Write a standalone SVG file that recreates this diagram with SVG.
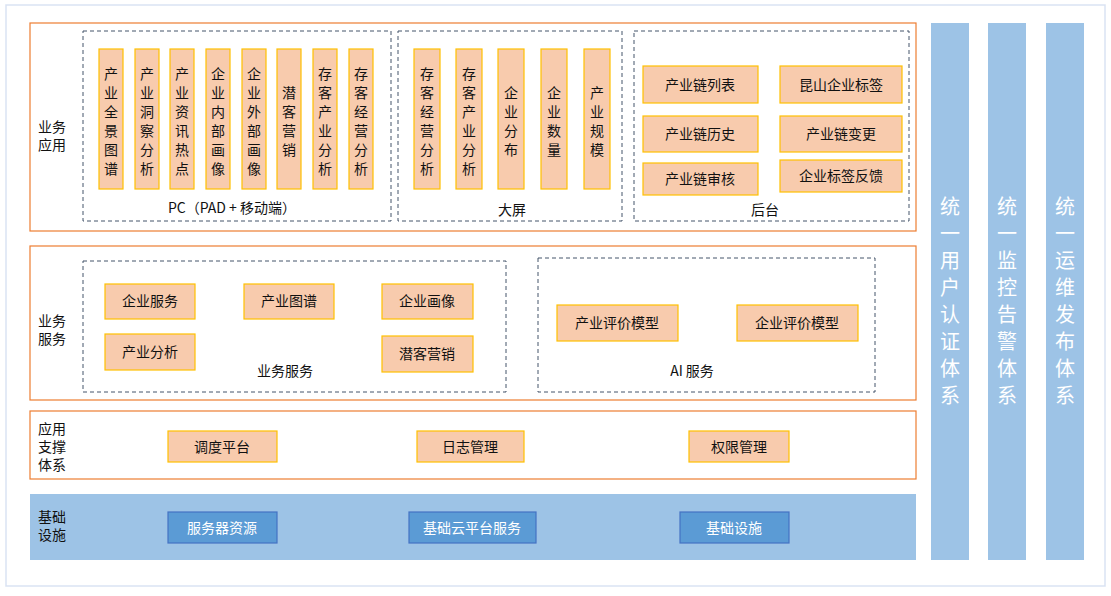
<svg xmlns="http://www.w3.org/2000/svg" width="1111" height="596" viewBox="0 0 1111 596">
<style>
text{font-family:"Noto Sans CJK SC","Noto Sans",sans-serif;fill:#111;font-size:14px}
.lay{fill:#fff;stroke:#ed7d31;stroke-width:1.2}
.dash{fill:none;stroke:#44546a;stroke-dasharray:4 3}
.b{fill:#f8cbad;stroke:#ffc000;stroke-width:1.2}
.bb{fill:#5b9bd5;stroke:#4472c4;stroke-width:1.2}
.c{text-anchor:middle}
.w{fill:#fff}
.col{fill:#9dc3e6}
.ct{fill:#fff;font-size:20px;text-anchor:middle}
</style>
<rect x="6" y="5" width="1099" height="581" fill="#fff" stroke="#dae3f3" stroke-width="1.5"/>
<g id="layer-app">
<rect class="lay" x="30" y="23" width="886" height="208"/>
<text x="38" y="132">业务</text><text x="38" y="150">应用</text>
<rect class="dash" x="83" y="31" width="308" height="190"/>
<text class="c" x="232" y="213">PC（PAD + 移动端）</text>
<rect class="dash" x="398" y="31" width="224" height="190"/>
<text class="c" x="512" y="215">大屏</text>
<rect class="dash" x="634" y="31" width="275" height="190"/>
<text class="c" x="765" y="215">后台</text>
</g>
<g id="pc-items">
<rect class="b" x="99" y="49" width="24" height="140"/><text class="c" x="111"><tspan x="111" y="79">产</tspan><tspan x="111" y="98">业</tspan><tspan x="111" y="117">全</tspan><tspan x="111" y="136">景</tspan><tspan x="111" y="155">图</tspan><tspan x="111" y="174">谱</tspan></text>
<rect class="b" x="135" y="49" width="24" height="140"/><text class="c"><tspan x="147" y="79">产</tspan><tspan x="147" y="98">业</tspan><tspan x="147" y="117">洞</tspan><tspan x="147" y="136">察</tspan><tspan x="147" y="155">分</tspan><tspan x="147" y="174">析</tspan></text>
<rect class="b" x="170" y="49" width="24" height="140"/><text class="c"><tspan x="182" y="79">产</tspan><tspan x="182" y="98">业</tspan><tspan x="182" y="117">资</tspan><tspan x="182" y="136">讯</tspan><tspan x="182" y="155">热</tspan><tspan x="182" y="174">点</tspan></text>
<rect class="b" x="206" y="49" width="24" height="140"/><text class="c"><tspan x="218" y="79">企</tspan><tspan x="218" y="98">业</tspan><tspan x="218" y="117">内</tspan><tspan x="218" y="136">部</tspan><tspan x="218" y="155">画</tspan><tspan x="218" y="174">像</tspan></text>
<rect class="b" x="242" y="49" width="24" height="140"/><text class="c"><tspan x="254" y="79">企</tspan><tspan x="254" y="98">业</tspan><tspan x="254" y="117">外</tspan><tspan x="254" y="136">部</tspan><tspan x="254" y="155">画</tspan><tspan x="254" y="174">像</tspan></text>
<rect class="b" x="277" y="49" width="24" height="140"/><text class="c"><tspan x="289" y="98">潜</tspan><tspan x="289" y="117">客</tspan><tspan x="289" y="136">营</tspan><tspan x="289" y="155">销</tspan></text>
<rect class="b" x="313" y="49" width="24" height="140"/><text class="c"><tspan x="325" y="79">存</tspan><tspan x="325" y="98">客</tspan><tspan x="325" y="117">产</tspan><tspan x="325" y="136">业</tspan><tspan x="325" y="155">分</tspan><tspan x="325" y="174">析</tspan></text>
<rect class="b" x="349" y="49" width="24" height="140"/><text class="c"><tspan x="361" y="79">存</tspan><tspan x="361" y="98">客</tspan><tspan x="361" y="117">经</tspan><tspan x="361" y="136">营</tspan><tspan x="361" y="155">分</tspan><tspan x="361" y="174">析</tspan></text>
</g>
<g id="screen-items">
<rect class="b" x="414" y="49" width="26" height="140"/><text class="c"><tspan x="427" y="79">存</tspan><tspan x="427" y="98">客</tspan><tspan x="427" y="117">经</tspan><tspan x="427" y="136">营</tspan><tspan x="427" y="155">分</tspan><tspan x="427" y="174">析</tspan></text>
<rect class="b" x="456" y="49" width="26" height="140"/><text class="c"><tspan x="469" y="79">存</tspan><tspan x="469" y="98">客</tspan><tspan x="469" y="117">产</tspan><tspan x="469" y="136">业</tspan><tspan x="469" y="155">分</tspan><tspan x="469" y="174">析</tspan></text>
<rect class="b" x="498" y="49" width="26" height="140"/><text class="c"><tspan x="511" y="98">企</tspan><tspan x="511" y="117">业</tspan><tspan x="511" y="136">分</tspan><tspan x="511" y="155">布</tspan></text>
<rect class="b" x="541" y="49" width="26" height="140"/><text class="c"><tspan x="554" y="98">企</tspan><tspan x="554" y="117">业</tspan><tspan x="554" y="136">数</tspan><tspan x="554" y="155">量</tspan></text>
<rect class="b" x="584" y="49" width="26" height="140"/><text class="c"><tspan x="597" y="98">产</tspan><tspan x="597" y="117">业</tspan><tspan x="597" y="136">规</tspan><tspan x="597" y="155">模</tspan></text>
</g>
<g id="backend-items">
<rect class="b" x="643" y="66" width="115" height="37"/><text class="c" x="700" y="90">产业链列表</text>
<rect class="b" x="780" y="66" width="122" height="37"/><text class="c" x="841" y="90">昆山企业标签</text>
<rect class="b" x="643" y="116" width="115" height="36"/><text class="c" x="700" y="139">产业链历史</text>
<rect class="b" x="780" y="116" width="122" height="36"/><text class="c" x="841" y="139">产业链变更</text>
<rect class="b" x="643" y="163" width="115" height="32"/><text class="c" x="700" y="184">产业链审核</text>
<rect class="b" x="780" y="160" width="122" height="32"/><text class="c" x="841" y="181">企业标签反馈</text>
</g>
<g id="layer-service">
<rect class="lay" x="30" y="246" width="886" height="154"/>
<text x="38" y="326">业务</text><text x="38" y="344">服务</text>
<rect class="dash" x="83" y="261" width="423" height="131"/>
<text class="c" x="285" y="376">业务服务</text>
<rect class="dash" x="538" y="258" width="337" height="134"/>
<text class="c" x="692" y="376">AI 服务</text>
<rect class="b" x="105" y="284" width="90" height="35"/><text class="c" x="150" y="306">企业服务</text>
<rect class="b" x="244" y="284" width="90" height="35"/><text class="c" x="289" y="306">产业图谱</text>
<rect class="b" x="382" y="284" width="91" height="35"/><text class="c" x="427" y="306">企业画像</text>
<rect class="b" x="105" y="334" width="90" height="36"/><text class="c" x="150" y="357">产业分析</text>
<rect class="b" x="382" y="336" width="91" height="36"/><text class="c" x="427" y="359">潜客营销</text>
<rect class="b" x="557" y="305" width="121" height="36"/><text class="c" x="617" y="328">产业评价模型</text>
<rect class="b" x="737" y="305" width="121" height="36"/><text class="c" x="797" y="328">企业评价模型</text>
</g>
<g id="layer-support">
<rect class="lay" x="30" y="411" width="886" height="68"/>
<text x="38" y="434">应用</text><text x="38" y="452">支撑</text><text x="38" y="470">体系</text>
<rect class="b" x="168" y="431" width="109" height="31"/><text class="c" x="222" y="452">调度平台</text>
<rect class="b" x="417" y="431" width="107" height="31"/><text class="c" x="470" y="452">日志管理</text>
<rect class="b" x="689" y="431" width="100" height="31"/><text class="c" x="739" y="452">权限管理</text>
</g>
<g id="layer-infra">
<rect x="30" y="494" width="886" height="66" fill="#9dc3e6"/>
<text x="38" y="522">基础</text><text x="38" y="540">设施</text>
<rect class="bb" x="168" y="512" width="109" height="31"/><text class="c w" x="222" y="533">服务器资源</text>
<rect class="bb" x="409" y="512" width="127" height="31"/><text class="c w" x="472" y="533">基础云平台服务</text>
<rect class="bb" x="680" y="512" width="109" height="31"/><text class="c w" x="734" y="533">基础设施</text>
</g>
<g id="col-auth"><rect class="col" x="931" y="23" width="38" height="537"/><text class="ct"><tspan x="950" y="214">统</tspan><tspan x="950" y="241">一</tspan><tspan x="950" y="268">用</tspan><tspan x="950" y="295">户</tspan><tspan x="950" y="322">认</tspan><tspan x="950" y="349">证</tspan><tspan x="950" y="376">体</tspan><tspan x="950" y="403">系</tspan></text></g>
<g id="col-monitor"><rect class="col" x="988" y="23" width="38" height="537"/><text class="ct"><tspan x="1007" y="214">统</tspan><tspan x="1007" y="241">一</tspan><tspan x="1007" y="268">监</tspan><tspan x="1007" y="295">控</tspan><tspan x="1007" y="322">告</tspan><tspan x="1007" y="349">警</tspan><tspan x="1007" y="376">体</tspan><tspan x="1007" y="403">系</tspan></text></g>
<g id="col-ops"><rect class="col" x="1046" y="23" width="38" height="537"/><text class="ct"><tspan x="1065" y="214">统</tspan><tspan x="1065" y="241">一</tspan><tspan x="1065" y="268">运</tspan><tspan x="1065" y="295">维</tspan><tspan x="1065" y="322">发</tspan><tspan x="1065" y="349">布</tspan><tspan x="1065" y="376">体</tspan><tspan x="1065" y="403">系</tspan></text></g>
<g id="connectors"/>
</svg>
